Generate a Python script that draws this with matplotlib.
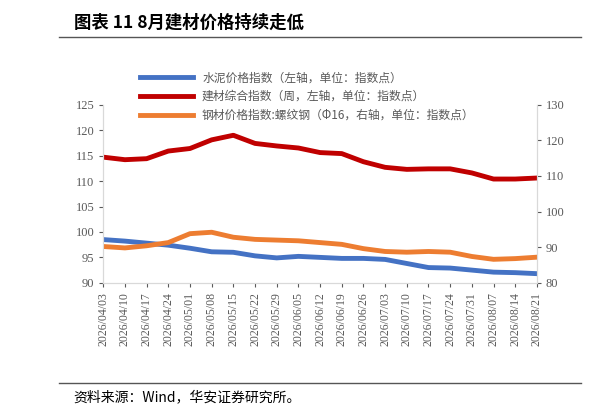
import matplotlib
matplotlib.use("Agg")
import matplotlib.pyplot as plt
from matplotlib.lines import Line2D

plt.rcParams['font.family'] = ['Noto Sans CJK SC', 'DejaVu Sans']

dates = ["2026/04/03","2026/04/10","2026/04/17","2026/04/24","2026/05/01","2026/05/08","2026/05/15",
         "2026/05/22","2026/05/29","2026/06/05","2026/06/12","2026/06/19","2026/06/26","2026/07/03",
         "2026/07/10","2026/07/17","2026/07/24","2026/07/31","2026/08/07","2026/08/14","2026/08/21"]
cement = [98.5,98.2,97.8,97.4,96.8,96.1,96.0,95.3,94.9,95.2,95.0,94.8,94.8,94.6,93.8,93.0,92.9,92.5,92.1,92.0,91.8]
composite = [114.7,114.2,114.4,115.9,116.4,118.1,119.0,117.4,116.9,116.5,115.6,115.4,113.8,112.7,112.3,112.4,112.4,111.6,110.4,110.4,110.6]
rebar = [90.2,89.8,90.4,91.3,93.8,94.2,92.8,92.2,92.0,91.8,91.3,90.8,89.6,88.8,88.6,88.8,88.6,87.4,86.6,86.8,87.2]

fig = plt.figure(figsize=(5.90,4.19), dpi=100)
fig.text(0.125, 0.945, "图表 11 8月建材价格持续走低", fontsize=12.5, fontweight='bold', va='center')
fig.add_artist(Line2D([0.1,0.985],[0.912,0.912], color='#555555', lw=1))
fig.add_artist(Line2D([0.1,0.985],[0.085,0.085], color='#555555', lw=1))
fig.text(0.125, 0.052, "资料来源：Wind，华安证券研究所。", fontsize=10, va='center')

ax = fig.add_axes([0.175, 0.325, 0.735, 0.425])
ax2 = ax.twinx()
x = range(len(dates))
l1, = ax.plot(x, cement, color='#4472C4', lw=3.5)
l2, = ax.plot(x, composite, color='#C00000', lw=3.5)
l3, = ax2.plot(x, rebar, color='#ED7D31', lw=3.5)
ax.set_ylim(90,125); ax.set_yticks(range(90,126,5))
ax2.set_ylim(80,130); ax2.set_yticks(range(80,131,10))
ax.set_xlim(0, len(dates)-1)
ax.set_xticks(list(x)); ax.set_xticklabels(dates, rotation=90, family='Liberation Serif', fontsize=8.5, color='#595959')
for a in (ax, ax2):
    for s in a.spines.values(): s.set_color('#D9D9D9')
    a.spines['top'].set_visible(False)
    a.tick_params(colors='#595959', labelsize=9, length=3)
for lab in ax.get_yticklabels()+ax2.get_yticklabels():
    lab.set_family('Liberation Serif')
ax.tick_params(axis='x', labelsize=8.5)
leg = ax.legend([l1,l2,l3], ["水泥价格指数（左轴，单位：指数点）","建材综合指数（周，左轴，单位：指数点）","钢材价格指数:螺纹钢（Φ16，右轴，单位：指数点）"],
          loc='lower left', bbox_to_anchor=(0.07, 0.87), frameon=False, fontsize=8.5, handlelength=4.5, labelspacing=0.5, borderpad=0)
for t in leg.get_texts(): t.set_color('#595959')
fig.savefig("out.png", dpi=100)
